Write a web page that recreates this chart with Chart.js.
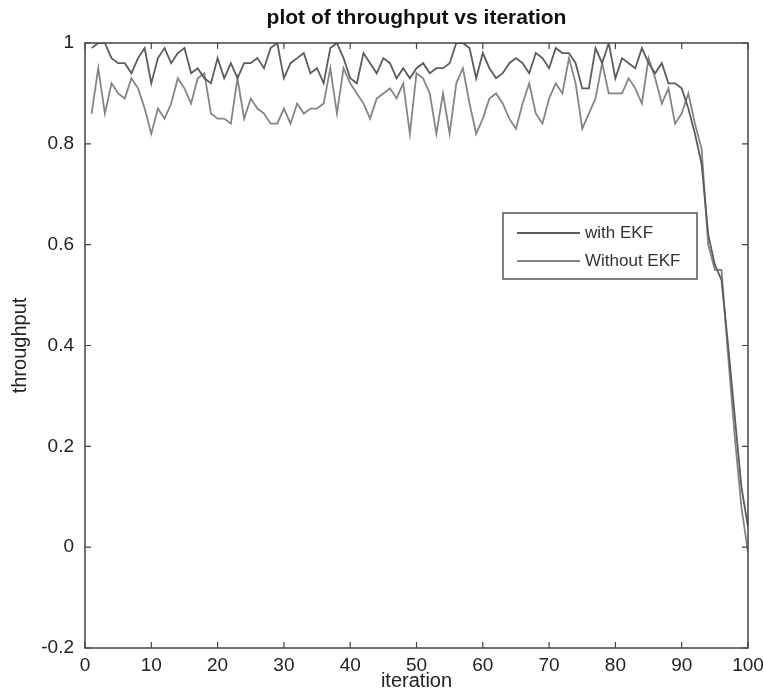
<!DOCTYPE html>
<html>
<head>
<meta charset="utf-8">
<script src="https://cdn.jsdelivr.net/npm/chart.js@4/dist/chart.umd.min.js"></script>
<style>
  html, body { margin: 0; padding: 0; background: #fff; }
  canvas { display: block; }
</style>
</head>
<body>
<canvas id="chart" width="763" height="693"></canvas>
<script>
// throughput per iteration
const iterations = Array.from({ length: 100 }, (_, i) => i + 1);
const withEKF = [
  0.99, 1.00, 1.00, 0.97, 0.96, 0.96, 0.94, 0.97, 0.99, 0.92,
  0.97, 0.99, 0.96, 0.98, 0.99, 0.94, 0.95, 0.93, 0.92, 0.97,
  0.93, 0.96, 0.93, 0.96, 0.96, 0.97, 0.95, 0.99, 1.00, 0.93,
  0.96, 0.97, 0.98, 0.94, 0.95, 0.92, 0.99, 1.00, 0.97, 0.93,
  0.92, 0.98, 0.96, 0.94, 0.97, 0.96, 0.93, 0.95, 0.93, 0.95,
  0.96, 0.94, 0.95, 0.95, 0.96, 1.00, 1.00, 0.99, 0.93, 0.98,
  0.95, 0.93, 0.94, 0.96, 0.97, 0.96, 0.94, 0.98, 0.97, 0.95,
  0.99, 0.98, 0.98, 0.96, 0.91, 0.91, 0.99, 0.96, 1.00, 0.93,
  0.97, 0.96, 0.95, 0.99, 0.96, 0.94, 0.96, 0.92, 0.92, 0.91,
  0.87, 0.82, 0.76, 0.62, 0.56, 0.53, 0.40, 0.26, 0.12, 0.04
];
const withoutEKF = [
  0.86, 0.95, 0.86, 0.92, 0.90, 0.89, 0.93, 0.91, 0.87, 0.82,
  0.87, 0.85, 0.88, 0.93, 0.91, 0.88, 0.93, 0.94, 0.86, 0.85,
  0.85, 0.84, 0.93, 0.85, 0.89, 0.87, 0.86, 0.84, 0.84, 0.87,
  0.84, 0.88, 0.86, 0.87, 0.87, 0.88, 0.95, 0.86, 0.95, 0.92,
  0.90, 0.88, 0.85, 0.89, 0.90, 0.91, 0.89, 0.92, 0.82, 0.94,
  0.93, 0.90, 0.82, 0.90, 0.82, 0.92, 0.95, 0.88, 0.82, 0.85,
  0.89, 0.90, 0.88, 0.85, 0.83, 0.88, 0.92, 0.86, 0.84, 0.89,
  0.92, 0.90, 0.97, 0.92, 0.83, 0.86, 0.89, 0.96, 0.90, 0.90,
  0.90, 0.93, 0.91, 0.88, 0.97, 0.93, 0.88, 0.91, 0.84, 0.86,
  0.90, 0.84, 0.79, 0.60, 0.55, 0.55, 0.38, 0.22, 0.08, -0.01
];
const seriesLabels = ['with EKF', 'Without EKF'];
const xTicks = [0, 10, 20, 30, 40, 50, 60, 70, 80, 90, 100];
const yTicks = [-0.2, 0, 0.2, 0.4, 0.6, 0.8, 1];

const FONT = "'Liberation Sans', Arial, sans-serif";
const lineColors = ['#5c5c5c', '#858585'];

// matlab style box with inward ticks on all four sides
const boxPlugin = {
  id: 'box',
  afterDraw(chart) {
    const { ctx, chartArea: a, scales } = chart;
    ctx.save();
    ctx.strokeStyle = '#444';
    ctx.lineWidth = 1.5;
    ctx.strokeRect(a.left, a.top, a.right - a.left, a.bottom - a.top);
    ctx.lineWidth = 1.2;
    ctx.beginPath();
    xTicks.forEach(v => {
      const x = scales.x.getPixelForValue(v);
      ctx.moveTo(x, a.bottom); ctx.lineTo(x, a.bottom - 6);
      ctx.moveTo(x, a.top); ctx.lineTo(x, a.top + 6);
    });
    yTicks.forEach(v => {
      const y = scales.y.getPixelForValue(v);
      ctx.moveTo(a.left, y); ctx.lineTo(a.left + 6, y);
      ctx.moveTo(a.right, y); ctx.lineTo(a.right - 6, y);
    });
    ctx.stroke();

    // legend box inside the axes
    const lx = a.left + 418, ly = a.top + 170, lw = 194, lh = 66;
    ctx.fillStyle = '#fff';
    ctx.fillRect(lx, ly, lw, lh);
    ctx.strokeStyle = '#555';
    ctx.lineWidth = 1.5;
    ctx.strokeRect(lx, ly, lw, lh);
    ctx.font = '17px ' + FONT;
    ctx.textBaseline = 'middle';
    chart.data.datasets.forEach((ds, i) => {
      const y = ly + 20 + i * 28;
      ctx.strokeStyle = ds.borderColor;
      ctx.lineWidth = 1.8;
      ctx.beginPath();
      ctx.moveTo(lx + 14, y); ctx.lineTo(lx + 77, y);
      ctx.stroke();
      ctx.fillStyle = '#333';
      ctx.fillText(ds.label, lx + 82, y);
    });

    // title
    ctx.fillStyle = '#111';
    ctx.font = 'bold 21px ' + FONT;
    ctx.textAlign = 'center';
    ctx.textBaseline = 'middle';
    ctx.fillText('plot of throughput vs iteration', (a.left + a.right) / 2, 18);
    ctx.restore();
  }
};

new Chart(document.getElementById('chart'), {
  type: 'line',
  data: {
    datasets: [
      {
        label: seriesLabels[0],
        data: iterations.map((x, i) => ({ x, y: withEKF[i] })),
        borderColor: lineColors[0],
        borderWidth: 1.8,
        pointRadius: 0,
        tension: 0,
        fill: false
      },
      {
        label: seriesLabels[1],
        data: iterations.map((x, i) => ({ x, y: withoutEKF[i] })),
        borderColor: lineColors[1],
        borderWidth: 1.8,
        pointRadius: 0,
        tension: 0,
        fill: false
      }
    ]
  },
  options: {
    responsive: false,
    animation: false,
    layout: { padding: { top: 43, right: 15, bottom: 0, left: 0 } },
    plugins: {
      legend: { display: false },
      title: { display: false },
      tooltip: { enabled: false }
    },
    scales: {
      x: {
        type: 'linear',
        min: 0,
        max: 100,
        afterFit(scale) {
          scale.height = 45;
          scale.paddingLeft = 0;
          scale.paddingRight = 0;
        },
        afterBuildTicks(scale) { scale.ticks = xTicks.map(v => ({ value: v })); },
        grid: { display: false, drawTicks: false },
        border: { display: false },
        ticks: { padding: 6, color: '#222', font: { family: FONT, size: 19 }, maxRotation: 0 },
        title: { display: true, text: 'iteration', color: '#222', font: { family: FONT, size: 20 }, padding: { top: 0, bottom: 0 } }
      },
      y: {
        min: -0.2,
        max: 1,
        afterFit(scale) {
          scale.width = 85;
          scale.paddingTop = 0;
          scale.paddingBottom = 0;
        },
        afterBuildTicks(scale) { scale.ticks = yTicks.map(v => ({ value: v })); },
        grid: { display: false, drawTicks: false },
        border: { display: false },
        ticks: {
          padding: 11,
          color: '#222',
          font: { family: FONT, size: 19 },
          callback: v => String(Math.round(v * 10) / 10)
        },
        title: { display: true, text: 'throughput', color: '#222', font: { family: FONT, size: 20 }, padding: { top: 8, bottom: 4 } }
      }
    }
  },
  plugins: [boxPlugin]
});
</script>
</body>
</html>
